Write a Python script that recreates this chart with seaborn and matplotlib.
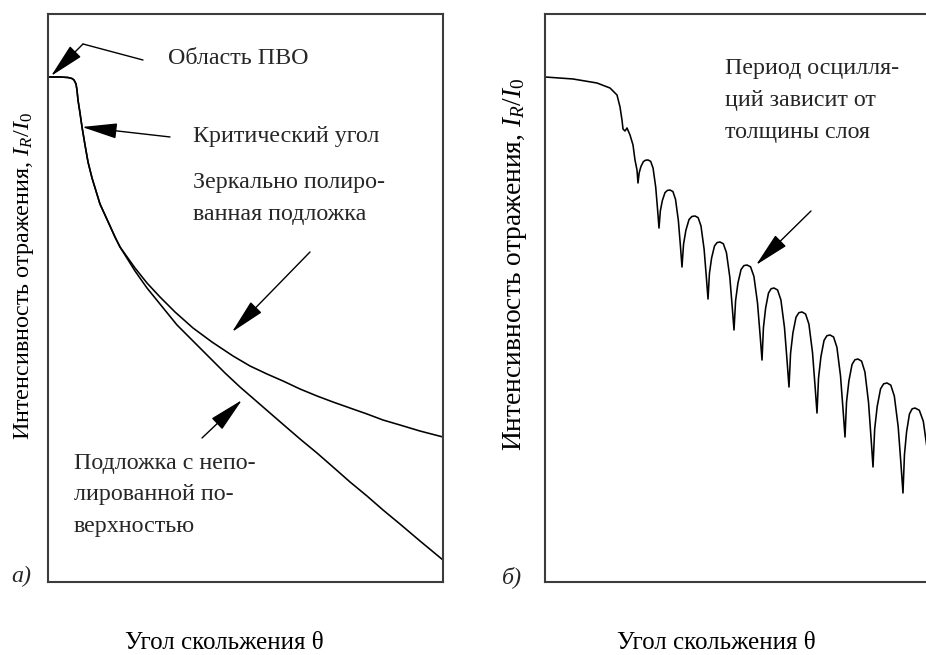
import matplotlib
matplotlib.use("Agg")
import matplotlib.pyplot as plt
import seaborn as sns
from matplotlib.patches import ArrowStyle

# ---------------- data (arbitrary units) ----------------
# panel a: grazing angle vs reflected intensity
angle_polished = [0.0, 3.04, 5.06, 6.08, 6.58, 7.09, 7.34, 7.59, 8.10, 8.61, 9.37,
                  10.13, 11.14, 12.15, 13.16, 14.43, 15.70, 16.96, 18.23,
                  22.03, 25.06, 28.35, 32.15, 36.71, 41.52, 46.84, 51.14, 55.44,
                  59.49, 63.80, 68.10, 72.15, 76.46, 80.76, 84.81, 89.11, 94.18, 100.0]
refl_polished = [88.91, 88.91, 88.82, 88.64, 88.38, 87.68, 86.62, 84.86, 82.57, 80.11, 76.94,
                 73.94, 71.13, 68.84, 66.55, 64.61, 62.68, 60.74, 58.98,
                 55.28, 52.64, 50.18, 47.54, 44.72, 42.25, 39.79, 38.03, 36.62,
                 35.39, 33.98, 32.75, 31.69, 30.63, 29.58, 28.52, 27.64, 26.58, 25.53]
angle_rough = [0.0, 3.04, 5.06, 6.08, 6.58, 7.09, 7.34, 7.59, 8.10, 8.61, 9.37,
               10.13, 11.14, 12.15, 13.16, 14.43, 15.70, 16.96, 18.23,
               22.03, 25.06, 28.35, 32.66, 36.71, 41.01, 44.81, 48.61, 52.41, 56.20,
               60.00, 63.80, 68.10, 72.15, 76.46, 80.76, 84.81, 89.11, 94.18, 100.0]
refl_rough = [88.91, 88.91, 88.82, 88.64, 88.38, 87.68, 86.62, 84.86, 82.57, 80.11, 76.94,
              73.94, 71.13, 68.84, 66.55, 64.61, 62.68, 60.74, 58.98,
              54.75, 51.76, 48.94, 45.25, 42.43, 39.44, 36.80, 34.33, 32.04, 29.75,
              27.46, 25.18, 22.71, 20.25, 17.61, 15.14, 12.68, 10.21, 7.22, 3.87]

# panel b: layer on substrate (thickness oscillations)
angle_layer = [0.0, 7.09, 13.16, 16.46, 18.23, 18.99, 19.49, 19.75, 20.25, 20.76,
               21.52, 22.28, 22.78, 23.29, 23.54,
               23.85, 24.30, 24.91, 25.47, 26.08, 26.75, 27.36, 28.03, 28.53, 28.86,
               29.20, 29.70, 30.37, 30.98, 31.65, 32.38, 33.04, 33.77, 34.32, 34.68,
               35.08, 35.67, 36.46, 37.18, 37.97, 38.76, 39.49, 40.28, 40.87, 41.27,
               41.63, 42.18, 42.91, 43.57, 44.30, 45.15, 45.93, 46.79, 47.42, 47.85,
               48.25, 48.84, 49.63, 50.35, 51.14, 52.05, 52.89, 53.80, 54.48, 54.94,
               55.30, 55.85, 56.58, 57.24, 57.97, 58.88, 59.72, 60.63, 61.31, 61.77,
               62.17, 62.76, 63.55, 64.27, 65.06, 65.97, 66.81, 67.72, 68.40, 68.86,
               69.25, 69.85, 70.64, 71.36, 72.15, 73.06, 73.90, 74.81, 75.49, 75.95,
               76.34, 76.94, 77.73, 78.45, 79.24, 80.15, 80.99, 81.90, 82.58, 83.04,
               83.46, 84.10, 84.95, 85.73, 86.58, 87.55, 88.44, 89.42, 90.14, 90.63,
               91.00, 91.54, 92.27, 92.94, 93.67, 94.76, 95.77, 96.86, 97.68, 98.23,
               100.0]
refl_layer = [88.91, 88.56, 87.85, 86.97, 85.74, 83.63, 81.34, 79.75, 79.40, 79.93,
              78.70, 76.94, 74.30, 72.54, 70.25,
              72.07, 73.17, 74.02, 74.26, 74.30, 74.06, 72.86, 69.51, 65.32, 62.32,
              65.33, 67.14, 68.54, 68.94, 69.01, 68.74, 67.38, 63.59, 58.85, 55.46,
              59.50, 61.93, 63.81, 64.35, 64.44, 64.15, 62.69, 58.59, 53.48, 49.82,
              54.34, 57.05, 59.16, 59.76, 59.86, 59.55, 58.00, 53.66, 48.24, 44.37,
              49.52, 52.61, 55.01, 55.70, 55.81, 55.48, 53.80, 49.12, 43.26, 39.08,
              44.79, 48.21, 50.87, 51.63, 51.76, 51.41, 49.67, 44.79, 38.69, 34.33,
              40.27, 43.84, 46.62, 47.41, 47.54, 47.18, 45.41, 40.42, 34.20, 29.75,
              35.93, 39.64, 42.53, 43.35, 43.49, 43.13, 41.33, 36.31, 30.02, 25.53,
              31.71, 35.42, 38.30, 39.12, 39.26, 38.88, 36.98, 31.66, 25.00, 20.25,
              26.91, 30.90, 34.00, 34.89, 35.04, 34.65, 32.72, 27.29, 20.51, 15.67,
              22.40, 26.44, 29.58, 30.48, 30.63, 30.24, 28.31, 22.89, 16.11, 11.27,
              18.0]

xlabel_text = "Угол скольжения θ"
ylabel_text = "Интенсивность отражения, $I_R/I_{\\mathit{0}}$"
label_a_tir = "Область ПВО"
label_a_crit = "Критический угол"
label_a_mirror = ["Зеркально полиро-", "ванная подложка"]
label_a_rough = ["Подложка с непо-", "лированной по-", "верхностью"]
label_b_period = ["Период осцилля-", "ций зависит от", "толщины слоя"]

# ---------------- style ----------------
sns.set_theme(style="white")
plt.rcParams["font.family"] = ["Liberation Serif", "DejaVu Serif"]
plt.rcParams["mathtext.fontset"] = "custom"
plt.rcParams["mathtext.rm"] = "Liberation Serif"
plt.rcParams["mathtext.it"] = "Liberation Serif:italic"
plt.rcParams["mathtext.bf"] = "Liberation Serif:bold"

W, H = 926, 655
fig = plt.figure(figsize=(W / 100, H / 100), dpi=100)
fig.patch.set_facecolor("white")

ax_a = fig.add_axes([48 / W, (H - 582) / H, 395 / W, 568 / H])
ax_b = fig.add_axes([545 / W, (H - 582) / H, 395 / W, 568 / H])

FS = 17.3
LW = 1.15
spine_col = "#3c3c3c"
head = ArrowStyle("-|>", head_length=1.1, head_width=0.24)
arrow_kw = dict(arrowstyle=head, color="black", lw=1.0, mutation_scale=20,
                shrinkA=0, shrinkB=0)

for ax in (ax_a, ax_b):
    ax.set_xlim(0, 100)
    ax.set_ylim(0, 100)
    ax.set_xticks([])
    ax.set_yticks([])
    ax.set_facecolor("white")
    for s in ax.spines.values():
        s.set_visible(True)
        s.set_color(spine_col)
        s.set_linewidth(1.5)

sns.lineplot(x=angle_polished, y=refl_polished, ax=ax_a, color="black", lw=LW,
             estimator=None, sort=False)
sns.lineplot(x=angle_rough, y=refl_rough, ax=ax_a, color="black", lw=LW,
             estimator=None, sort=False)
sns.lineplot(x=angle_layer, y=refl_layer, ax=ax_b, color="black", lw=LW,
             estimator=None, sort=False)

# axis labels (placed explicitly in axes coordinates)
for ax, ylx, yly, yfs, xlx in ((ax_a, -0.062, 0.538, 17.4, 0.4456),
                               (ax_b, -0.076, 0.56, 19.8, 0.433)):
    ax.text(xlx, -0.1175, xlabel_text, transform=ax.transAxes, fontsize=18,
            ha="center", va="baseline", color="black", clip_on=False)
    ax.text(ylx, yly, ylabel_text, transform=ax.transAxes, fontsize=yfs,
            rotation=90, ha="center", va="center", color="black", clip_on=False)

# panel letters
ax_a.text(-6.84, 0.9, "а)", fontsize=FS, style="italic", ha="center", va="center",
          clip_on=False)
ax_b.text(-8.35, 0.9, "б)", fontsize=FS, style="italic", ha="center", va="center",
          clip_on=False)

# ---- annotations panel a ----
ax_a.text(30.38, 92.25, label_a_tir, fontsize=FS, ha="left", va="center")
ax_a.annotate("", xy=(8.86, 94.72), xytext=(24.05, 91.90),
              arrowprops=dict(arrowstyle="-", color="black", lw=1.0,
                              shrinkA=0, shrinkB=0))
ax_a.annotate("", xy=(0.76, 89.08), xytext=(8.86, 94.72), arrowprops=arrow_kw,
              annotation_clip=False)

ax_a.text(36.71, 78.52, label_a_crit, fontsize=FS, ha="left", va="center")
ax_a.annotate("", xy=(8.61, 80.11), xytext=(30.89, 78.35), arrowprops=arrow_kw)

for i, line in enumerate(label_a_mirror):
    ax_a.text(36.71, 70.25 - i * 5.63, line, fontsize=FS, ha="left", va="center")
ax_a.annotate("", xy=(46.58, 44.01), xytext=(66.33, 58.10), arrowprops=arrow_kw)

for i, line in enumerate(label_a_rough):
    ax_a.text(6.58, 20.95 - i * 5.63, line, fontsize=FS, ha="left", va="center")
ax_a.annotate("", xy=(49.11, 32.04), xytext=(38.99, 25.35), arrowprops=arrow_kw)

# ---- annotations panel b ----
for i, line in enumerate(label_b_period):
    ax_b.text(45.57, 90.49 - i * 5.72, line, fontsize=FS, ha="left", va="center")
ax_b.annotate("", xy=(53.42, 55.81), xytext=(67.34, 65.32), arrowprops=arrow_kw)

fig.savefig("out.png", dpi=100, facecolor="white")
